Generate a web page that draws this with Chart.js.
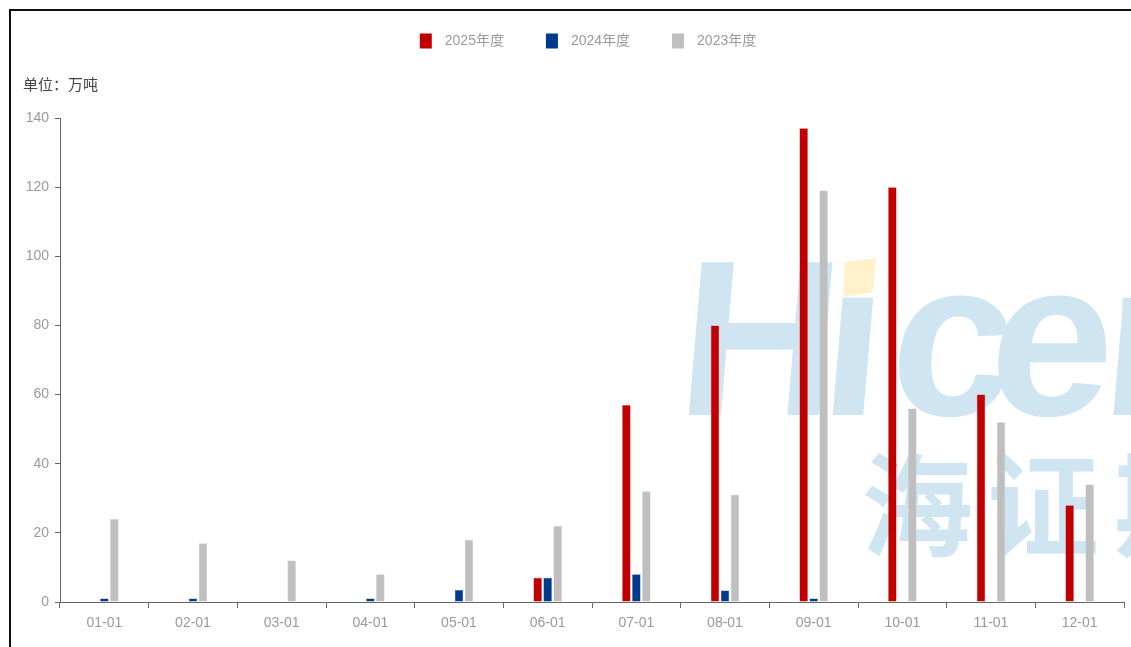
<!DOCTYPE html>
<html>
<head>
<meta charset="utf-8">
<script src="https://cdn.jsdelivr.net/npm/chart.js@4.4.1/dist/chart.umd.min.js"></script>
<style>
  html, body { margin: 0; padding: 0; background: #ffffff; }
  #wrap { position: relative; width: 1131px; height: 647px; }
  canvas { display: block; }
</style>
</head>
<body>
<div id="wrap"><canvas id="chart" width="1131" height="647"></canvas></div>
<script>
// Monthly volume (万吨), three seasons compared month by month
const months = ['01-01', '02-01', '03-01', '04-01', '05-01', '06-01', '07-01', '08-01', '09-01', '10-01', '11-01', '12-01'];
const season2025 = [null, null, null, null, null, 7, 57, 80, 137, 120, 60, 28];
const season2024 = [1, 1, null, 1, 3.5, 7, 8, 3.3, 1, null, null, null];
const season2023 = [24, 17, 12, 8, 18, 22, 32, 31, 119, 56, 52, 34];
const seriesNames = ['2025年度', '2024年度', '2023年度'];
const yTicks = [0, 20, 40, 60, 80, 100, 120, 140];
const unitLabel = '单位：万吨';
const brandLatin = ['H', 'ı', 'c', 'e', 'n'];
const brandCjk = ['海', '证', '期'];

const sans = '"Liberation Sans", Arial, "Noto Sans CJK SC", sans-serif';
const textGrey = '#9a9a9a';
const axisGrey = '#666666';

// Faint brand mark painted behind the bars
const brandMark = {
  id: 'brandMark',
  beforeDatasetsDraw(chart) {
    const ctx = chart.ctx;
    ctx.save();
    ctx.fillStyle = '#cfe5f2';
    ctx.textBaseline = 'alphabetic';
    ctx.textAlign = 'left';
    ctx.font = 'bold 222px "Liberation Sans", Arial, sans-serif';
    const latinX = [674, 817, 886, 985, 1098];
    brandLatin.forEach((ch, i) => {
      ctx.save();
      ctx.translate(latinX[i], 415);
      ctx.transform(1, 0, -0.085, 1, 0, 0);
      ctx.fillText(ch, 0, 0);
      ctx.restore();
    });
    // the slanted dot over the i
    ctx.fillStyle = '#fff1cc';
    ctx.beginPath();
    ctx.moveTo(845, 262);
    ctx.lineTo(876, 258);
    ctx.lineTo(873, 292);
    ctx.lineTo(843, 297);
    ctx.closePath();
    ctx.fill();

    ctx.fillStyle = '#cfe5f2';
    ctx.font = 'bold 112px "Noto Sans CJK SC", sans-serif';
    ctx.textBaseline = 'middle';
    const cjkX = [861, 987, 1114];
    brandCjk.forEach((ch, i) => ctx.fillText(ch, cjkX[i], 505));
    ctx.restore();
  }
};

// Outer frame, unit caption and the legend row
const decorations = {
  id: 'decorations',
  afterDraw(chart) {
    const ctx = chart.ctx;
    ctx.save();
    ctx.fillStyle = '#111111';
    ctx.fillRect(9, 9, 1122, 2);
    ctx.fillRect(9, 9, 2, 638);

    ctx.fillStyle = '#444444';
    ctx.font = '15px "Noto Sans CJK SC", sans-serif';
    ctx.textBaseline = 'middle';
    ctx.textAlign = 'left';
    ctx.fillText(unitLabel, 23, 84);

    ctx.font = '14px ' + sans;
    const box = 12, gapText = 13, gapItem = 42;
    const items = chart.data.datasets.map(ds => ({
      text: ds.label, color: ds.backgroundColor, w: ctx.measureText(ds.label).width
    }));
    const total = items.reduce((s, it) => s + box + gapText + it.w, 0) + gapItem * (items.length - 1);
    let x = 588 - total / 2;
    const cy = 41;
    items.forEach(it => {
      ctx.fillStyle = it.color;
      ctx.fillRect(x, cy - 7.5, box, 15);
      ctx.fillStyle = textGrey;
      ctx.fillText(it.text, x + box + gapText, cy);
      x += box + gapText + it.w + gapItem;
    });
    ctx.restore();
  }
};

new Chart(document.getElementById('chart'), {
  type: 'bar',
  data: {
    labels: months,
    datasets: [
      { label: seriesNames[0], data: season2025, backgroundColor: '#c00000', borderColor: '#d54a4a', borderWidth: 0.5 },
      { label: seriesNames[1], data: season2024, backgroundColor: '#003a8c', borderColor: '#3d62a3', borderWidth: 0.5 },
      { label: seriesNames[2], data: season2023, backgroundColor: '#bfbfbf', borderColor: '#cfcfcf', borderWidth: 0.5 }
    ]
  },
  options: {
    responsive: false,
    animation: false,
    devicePixelRatio: 1,
    layout: { padding: { left: 10, right: 7, top: 118, bottom: 0 } },
    datasets: { bar: { categoryPercentage: 0.338, barPercentage: 0.85 } },
    plugins: {
      legend: { display: false },
      tooltip: { enabled: false },
      title: { display: false }
    },
    scales: {
      x: {
        grid: { display: true, drawOnChartArea: false, drawTicks: true, tickLength: 6, color: axisGrey, offset: true },
        border: { display: true, color: axisGrey, width: 1 },
        ticks: { color: textGrey, font: { size: 14, family: sans }, padding: 7, maxRotation: 0 },
        afterFit(scale) { scale.height = 45; }
      },
      y: {
        min: 0,
        max: 140,
        afterBuildTicks(scale) { scale.ticks = yTicks.map(v => ({ value: v })); },
        grid: { display: true, drawOnChartArea: false, drawTicks: true, tickLength: 5, color: axisGrey },
        border: { display: true, color: axisGrey, width: 1 },
        ticks: { color: textGrey, font: { size: 14, family: sans }, padding: 6 },
        afterFit(scale) { scale.width = 50; }
      }
    }
  },
  plugins: [brandMark, decorations]
});
</script>
</body>
</html>
